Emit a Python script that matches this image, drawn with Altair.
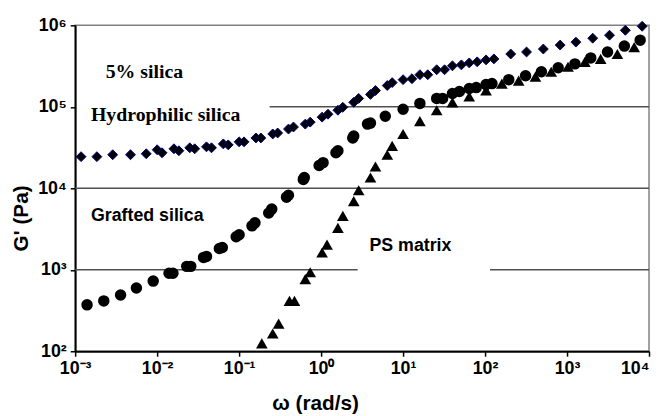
import altair as alt
import pandas as pd
import numpy as np

# Values, stored as log10(omega [rad/s]) and log10(G' [Pa])
hydro_log_w = [-2.928, -2.735, -2.542, -2.325, -2.133, -2.0, -1.94, -1.795, -1.735, -1.602,
               -1.542, -1.398, -1.337, -1.193, -1.133, -1.0, -0.94, -0.795, -0.735, -0.59,
               -0.53, -0.398, -0.337, -0.193, -0.133, 0.012, 0.084, 0.205, 0.265, 0.398,
               0.458, 0.602, 0.663, 0.807, 0.867, 1.0, 1.108, 1.205, 1.301, 1.41,
               1.506, 1.602, 1.711, 1.807, 1.904, 2.012, 2.108, 2.313, 2.506, 2.711,
               2.916, 3.108, 3.313, 3.518, 3.711, 3.916]
hydro_log_g = [4.388, 4.388, 4.412, 4.412, 4.424, 4.473, 4.436, 4.485, 4.461, 4.497,
               4.485, 4.509, 4.497, 4.545, 4.533, 4.57, 4.57, 4.618, 4.618, 4.667,
               4.679, 4.727, 4.752, 4.788, 4.812, 4.873, 4.909, 4.958, 4.994, 5.055,
               5.103, 5.152, 5.2, 5.261, 5.297, 5.333, 5.345, 5.394, 5.394, 5.455,
               5.455, 5.503, 5.515, 5.539, 5.552, 5.576, 5.588, 5.648, 5.673, 5.709,
               5.758, 5.794, 5.842, 5.879, 5.939, 5.988]

grafted_log_w = [-2.855, -2.651, -2.446, -2.253, -2.048, -1.855, -1.807, -1.639, -1.59, -1.434,
                 -1.398, -1.241, -1.205, -1.036, -1.0, -0.843, -0.807, -0.639, -0.602, -0.422,
                 -0.398, -0.217, -0.205, -0.024, 0.024, 0.181, 0.205, 0.386, 0.398, 0.566,
                 0.602, 0.783, 1.0, 1.205, 1.41, 1.482, 1.602, 1.687, 1.807, 1.892,
                 2.012, 2.084, 2.289, 2.494, 2.687, 2.892, 3.096, 3.289, 3.494, 3.699, 3.892]
grafted_log_g = [2.57, 2.618, 2.691, 2.776, 2.861, 2.958, 2.958, 3.042, 3.042, 3.152,
                 3.164, 3.261, 3.273, 3.406, 3.43, 3.539, 3.576, 3.697, 3.745, 3.891,
                 3.915, 4.109, 4.133, 4.279, 4.315, 4.436, 4.461, 4.618, 4.642, 4.788,
                 4.8, 4.885, 4.97, 5.042, 5.103, 5.103, 5.164, 5.188, 5.224, 5.236,
                 5.273, 5.285, 5.333, 5.382, 5.43, 5.479, 5.527, 5.6, 5.673, 5.745, 5.818]

ps_log_w = [-0.723, -0.59, -0.518, -0.386, -0.325, -0.193, -0.133, 0.012, 0.072, 0.205,
            0.265, 0.398, 0.458, 0.602, 0.663, 0.807, 0.867, 1.0, 1.205, 1.41,
            1.602, 1.807, 2.012, 2.205, 2.41, 2.614, 2.807, 3.012, 3.217, 3.41, 3.614, 3.819]
ps_log_g = [2.097, 2.218, 2.339, 2.618, 2.618, 2.885, 2.97, 3.212, 3.309, 3.515,
            3.661, 3.842, 3.976, 4.133, 4.267, 4.412, 4.521, 4.667, 4.824, 4.958,
            5.055, 5.127, 5.2, 5.285, 5.321, 5.37, 5.43, 5.491, 5.552, 5.588, 5.648, 5.733]

x_ticks = [1e-3, 1e-2, 1e-1, 1e0, 1e1, 1e2, 1e3, 1e4]
y_ticks = [1e2, 1e3, 1e4, 1e5, 1e6]

# horizontal reference lines (value, from, to) – interrupted where labels sit
grid_y = [1e5, 1e4, 1e3, 1e3]
grid_from = [0.236, 1e-3, 1e-3, 115]
grid_to = [1e4, 1e4, 2.79, 1e4]

# annotation texts
serif_labels = ["5% silica", "Hydrophilic silica"]
serif_x = [0.00236, 0.00156]
serif_y = [2.69e5, 7.9e4]
sans_labels = ["Grafted silica", "PS matrix"]
sans_x = [0.00156, 3.89]
sans_y = [4580, 1980]


def frame(lw, lg):
    return pd.DataFrame({"omega": 10 ** np.array(lw), "G": 10 ** np.array(lg)})


SUP = {-3: "⁻³", -2: "⁻²", -1: "⁻¹", 0: "⁰", 1: "¹", 2: "²", 3: "³", 4: "⁴", 5: "⁵", 6: "⁶"}


def label_expr(exps):
    e = "round(log(datum.value)/LN10)"
    expr = "''"
    for k in reversed(exps):
        expr = f"{e} == {k} ? '10{SUP[k]}' : ({expr})"
    return expr


FONT = "Liberation Sans"
xscale = alt.Scale(type="log", domain=[1e-3, 1e4], nice=False)
yscale = alt.Scale(type="log", domain=[1e2, 1e6], nice=False)

xaxis = alt.Axis(values=x_ticks, labelExpr=label_expr(list(range(-3, 5))), grid=False,
                 title="ω (rad/s)", titleFont=FONT, titleFontSize=21, titleFontWeight="bold",
                 titleColor="black", titleX=243, titleY=53, titleAlign="center",
                 titleBaseline="middle",
                 labelFont=FONT, labelFontSize=18, labelFontWeight="bold", labelColor="black",
                 labelAlign={"expr": "datum.value > 5000 ? 'right' : 'center'"},
                 labelPadding=4, tickSize=5, tickWidth=1.5, tickColor="black",
                 domainColor="black", domainWidth=2, labelFlush=False, labelOverlap=False)
yaxis = alt.Axis(values=y_ticks, labelExpr=label_expr(list(range(2, 7))), grid=False,
                 title="G' (Pa)", titleFont=FONT, titleFontSize=21, titleFontWeight="bold",
                 titleColor="black", titleAngle=270, titleX=-54, titleY=195,
                 titleAlign="center", titleBaseline="middle",
                 labelFont=FONT, labelFontSize=18, labelFontWeight="bold", labelColor="black",
                 labelPadding=4, tickSize=5, tickWidth=1.5, tickColor="black",
                 domainColor="black", domainWidth=2, labelFlush=False, labelOverlap=False)


def X(field):
    return alt.X(field, type="quantitative", scale=xscale, axis=xaxis)


def Y(field):
    return alt.Y(field, type="quantitative", scale=yscale, axis=yaxis)


grid_df = pd.DataFrame({"y": grid_y, "x": grid_from, "x2": grid_to})
rules = alt.Chart(grid_df).mark_rule(color="#505050", strokeWidth=1.5).encode(
    x=X("x"), x2="x2", y=Y("y"))

diamonds = alt.Chart(frame(hydro_log_w, hydro_log_g)).mark_point(
    shape="diamond", filled=True, fill="black", stroke="#000080", strokeWidth=1,
    size=100, opacity=1).encode(x=X("omega"), y=Y("G"))

circles = alt.Chart(frame(grafted_log_w, grafted_log_g)).mark_point(
    shape="circle", filled=True, color="black", size=135, opacity=1).encode(
    x=X("omega"), y=Y("G"))

triangles = alt.Chart(frame(ps_log_w, ps_log_g)).mark_point(
    shape="triangle-up", filled=True, color="black", size=140, opacity=1).encode(
    x=X("omega"), y=Y("G"))

serif_text = alt.Chart(pd.DataFrame({"x": serif_x, "y": serif_y, "t": serif_labels})).mark_text(
    align="left", baseline="middle", font="Liberation Serif", fontSize=20,
    fontWeight="bold", color="black").encode(x=X("x"), y=Y("y"), text="t:N")

sans_text = alt.Chart(pd.DataFrame({"x": sans_x, "y": sans_y, "t": sans_labels})).mark_text(
    align="left", baseline="middle", font=FONT, fontSize=18,
    fontWeight="bold", color="black").encode(x=X("x"), y=Y("y"), text="t:N")

chart = alt.layer(rules, diamonds, circles, triangles, serif_text, sans_text).properties(
    width=581, height=330,
    autosize=alt.AutoSizeParams(type="none"),
    padding={"left": 68, "top": 15, "right": 2, "bottom": 64},
    background="white",
).configure_view(stroke="#808080", strokeWidth=1.5)

chart.save("out.html", embed_options={"renderer": "svg", "actions": False})
